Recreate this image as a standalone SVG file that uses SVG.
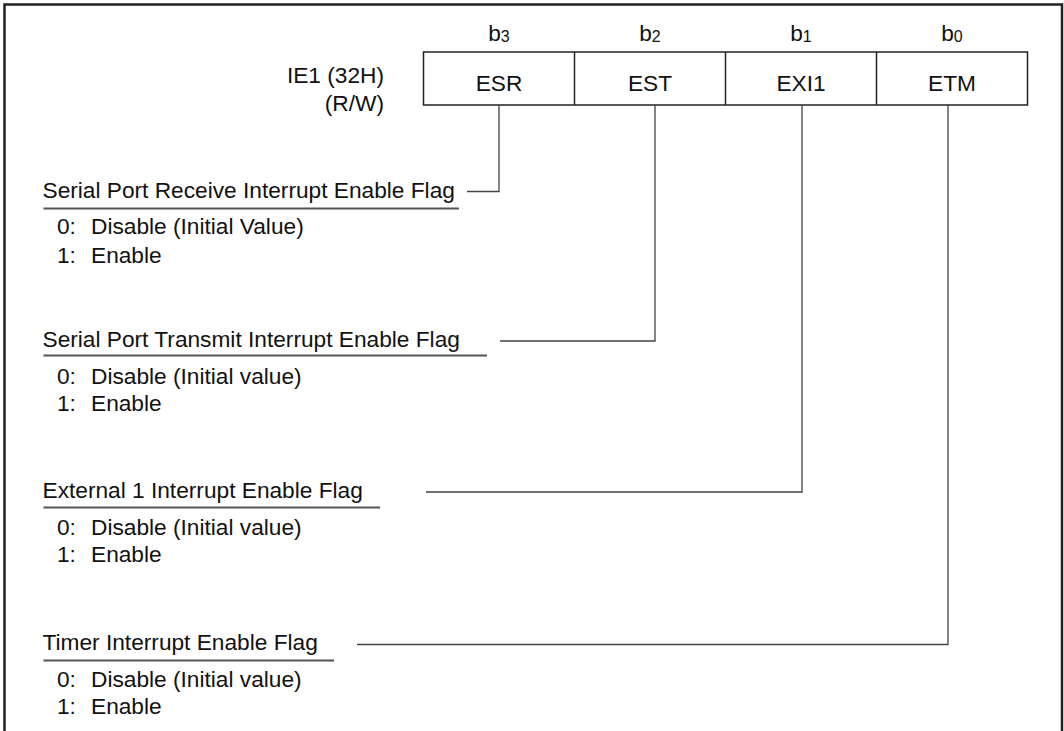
<svg xmlns="http://www.w3.org/2000/svg" width="1064" height="731" viewBox="0 0 1064 731">
<style>
text{font-family:"Liberation Sans",Arial,sans-serif;font-size:22.7px;fill:#111}
.c{text-anchor:middle}
.r{text-anchor:end}
.ln{stroke:#444;stroke-width:1.3;fill:none}
.ul{stroke:#555;stroke-width:1.8}
.sub{font-size:16px}
</style>
<rect width="1064" height="731" fill="#fff"/>
<path d="M4.5,731 V4.5 H1062 V731" fill="none" stroke="#222" stroke-width="2.5"/>
<g id="register">
<text x="384" y="83" class="r">IE1 (32H)</text>
<text x="384" y="111" class="r">(R/W)</text>
<rect x="423.5" y="52" width="604" height="53" fill="#fff" stroke="#222" stroke-width="1.5"/>
<line x1="574.5" y1="52" x2="574.5" y2="105" stroke="#222" stroke-width="1.5"/>
<line x1="725.5" y1="52" x2="725.5" y2="105" stroke="#222" stroke-width="1.5"/>
<line x1="876.5" y1="52" x2="876.5" y2="105" stroke="#222" stroke-width="1.5"/>
<text x="499" y="41" class="c">b<tspan class="sub" dy="1">3</tspan></text>
<text x="650" y="41" class="c">b<tspan class="sub" dy="1">2</tspan></text>
<text x="801" y="41" class="c">b<tspan class="sub" dy="1">1</tspan></text>
<text x="952" y="41" class="c">b<tspan class="sub" dy="1">0</tspan></text>
<text x="499" y="91" class="c">ESR</text>
<text x="650" y="91" class="c">EST</text>
<text x="801" y="91" class="c">EXI1</text>
<text x="952" y="91" class="c">ETM</text>
</g>
<g id="connectors" class="ln">
<polyline points="499,105 499,191.5 467,191.5"/>
<polyline points="655,105 655,341 500,341"/>
<polyline points="802,105 802,492 426,492"/>
<polyline points="948,105 948,644.5 357,644.5"/>
</g>
<g id="flag-esr">
<text x="42.5" y="197.5">Serial Port Receive Interrupt Enable Flag</text>
<line x1="43.5" y1="208.5" x2="459" y2="208.5" class="ul"/>
<text x="57" y="234">0:<tspan x="91">Disable (Initial Value)</tspan></text>
<text x="57" y="262.5">1:<tspan x="91">Enable</tspan></text>
</g>
<g id="flag-est">
<text x="42.5" y="346.5">Serial Port Transmit Interrupt Enable Flag</text>
<line x1="43.5" y1="355.5" x2="487" y2="355.5" class="ul"/>
<text x="57" y="383.5">0:<tspan x="91">Disable (Initial value)</tspan></text>
<text x="57" y="411">1:<tspan x="91">Enable</tspan></text>
</g>
<g id="flag-exi1">
<text x="42.5" y="497.5">External 1 Interrupt Enable Flag</text>
<line x1="43.5" y1="507.5" x2="380" y2="507.5" class="ul"/>
<text x="57" y="534.5">0:<tspan x="91">Disable (Initial value)</tspan></text>
<text x="57" y="562">1:<tspan x="91">Enable</tspan></text>
</g>
<g id="flag-etm">
<text x="42.5" y="650">Timer Interrupt Enable Flag</text>
<line x1="43.5" y1="660.5" x2="334" y2="660.5" class="ul"/>
<text x="57" y="687">0:<tspan x="91">Disable (Initial value)</tspan></text>
<text x="57" y="714">1:<tspan x="91">Enable</tspan></text>
</g>
</svg>
